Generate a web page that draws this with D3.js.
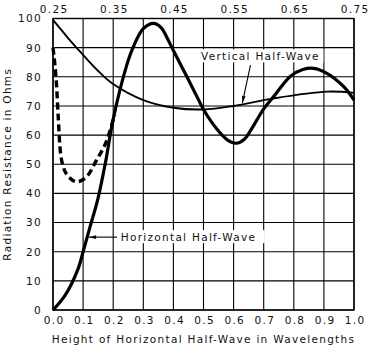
<!DOCTYPE html>
<html><head><meta charset="utf-8">
<script src="https://cdn.jsdelivr.net/npm/d3@7"></script>
<style>
html,body{margin:0;padding:0;background:#fff;}
svg{display:block;}
text{font-family:"DejaVu Sans",sans-serif;font-size:10.5px;letter-spacing:1.3px;fill:#111;}
</style></head>
<body>
<svg id="c" width="368" height="352"></svg>
<script>
// ---- data ----
const xTicks = [0,0.1,0.2,0.3,0.4,0.5,0.6,0.7,0.8,0.9,1.0];
const xTickLabels = ["0.0","0.1","0.2","0.3","0.4","0.5","0.6","0.7","0.8","0.9","1.0"];
const topTicks = [0.25,0.35,0.45,0.55,0.65,0.75];
const topTickLabels = ["0.25","0.35","0.45","0.55","0.65","0.75"];
const yTicks = [0,10,20,30,40,50,60,70,80,90,100];

// Horizontal half-wave, perfect ground (solid thick)
const horizX = [0,0.04,0.084,0.1,0.123,0.15,0.175,0.2,0.245,0.267,0.3,0.334,0.36,0.378,0.4,0.445,0.484,0.5,0.545,0.58,0.609,0.635,0.656,0.7,0.733,0.789,0.83,0.866,0.91,0.966,1.0];
const horizY = [0,5,14.3,20,28.5,38.5,51,65.5,84,90.3,96.5,98.3,96.8,93.6,89,80,72,68.8,62,58.3,57.2,58.5,61.5,69,73.2,80.2,82.5,82.9,81.2,76.6,72];

// Horizontal half-wave, real ground (dashed)
const realX = [0,0.012,0.018,0.023,0.034,0.057,0.079,0.112,0.145,0.179,0.205];
const realY = [90,76.6,65,56,49.2,45.2,44,45.7,51.5,58.3,67];

// Vertical half-wave (solid thin)
const vertX = [0,0.05,0.1,0.15,0.2,0.3,0.4,0.5,0.6,0.733,0.91,1.0];
const vertY = [99.5,93.3,87.5,82,77.5,72,69.4,68.8,70,72.6,74.9,74.5];

const xTitle = "Height of Horizontal Half-Wave in Wavelengths";
const yTitle = "Radiation Resistance in Ohms";
const vertLabel = "Vertical Half-Wave";
const horizLabel = "Horizontal Half-Wave";
// annotation anchors in data units: [textX, textY, arrowStartX, arrowStartY, arrowTipX, arrowTipY]
const vertAnno = [0.689, 87, 0.656, 84, 0.629, 71];
const horizAnno = [0.225, 25, 0.213, 25, 0.12, 25];

// ---- layout ----
const svg = d3.select("#c");
const L = 53, R = 354, T = 18.5, B = 310;
const x = d3.scaleLinear().domain([0,1]).range([L,R]);
const xTop = d3.scaleLinear().domain([0.25,0.75]).range([L,R]);
const y = d3.scaleLinear().domain([0,100]).range([B,T]);

// grid
const g = svg.append("g");
g.selectAll("line.v").data(xTicks).join("line")
  .attr("x1",d=>x(d)).attr("x2",d=>x(d)).attr("y1",T).attr("y2",B)
  .attr("stroke","#000").attr("stroke-width",1.1);
g.selectAll("line.h").data(yTicks).join("line")
  .attr("y1",d=>y(d)).attr("y2",d=>y(d)).attr("x1",L).attr("x2",R)
  .attr("stroke","#000").attr("stroke-width",1.1);
svg.append("rect").attr("x",L).attr("y",T).attr("width",R-L).attr("height",B-T)
  .attr("fill","none").attr("stroke","#000").attr("stroke-width",1.4);

// axes labels
const bottomAxis = d3.axisBottom(x).tickValues(xTicks).tickFormat((d,i)=>xTickLabels[i]).tickSize(0).tickPadding(7);
const ba = svg.append("g").attr("transform",`translate(0,${B})`).call(bottomAxis);
ba.select(".domain").remove();
ba.selectAll("text").attr("font-size",null).attr("font-family",null).attr("dx","0.65px");

const topAxis = d3.axisTop(xTop).tickValues(topTicks).tickFormat((d,i)=>topTickLabels[i]).tickSize(0).tickPadding(6);
const ta = svg.append("g").attr("transform",`translate(0,${T})`).call(topAxis);
ta.select(".domain").remove();
ta.selectAll("text").attr("font-size",null).attr("font-family",null).attr("dx","0.65px");

const leftAxis = d3.axisLeft(y).tickValues(yTicks).tickSize(0).tickPadding(11);
const la = svg.append("g").attr("transform",`translate(${L},0)`).call(leftAxis);
la.select(".domain").remove();
la.selectAll("text").attr("font-size",null).attr("font-family",null);

// titles
svg.append("text").attr("x",(L+R)/2).attr("y",343).attr("text-anchor","middle").text(xTitle);
svg.append("text").attr("transform",`translate(11,${(T+B)/2}) rotate(-90)`).attr("text-anchor","middle").text(yTitle);

// curves
const line = d3.line().x(d=>x(d[0])).y(d=>y(d[1])).curve(d3.curveMonotoneX);
const smooth = d3.line().x(d=>x(d[0])).y(d=>y(d[1])).curve(d3.curveCatmullRom.alpha(0.5));
const zip = (a,b)=>a.map((v,i)=>[v,b[i]]);

svg.append("path").datum(zip(vertX,vertY)).attr("d",smooth)
  .attr("fill","none").attr("stroke","#000").attr("stroke-width",1.9);
svg.append("path").datum(zip(realX,realY)).attr("d",line)
  .attr("fill","none").attr("stroke","#000").attr("stroke-width",3.4)
  .attr("stroke-dasharray","7,4");
svg.append("path").datum(zip(horizX,horizY)).attr("d",smooth)
  .attr("fill","none").attr("stroke","#000").attr("stroke-width",3.2).attr("stroke-linejoin","round");

// annotations
function arrow(a){
  const x1=x(a[2]), y1=y(a[3]), x2=x(a[4]), y2=y(a[5]);
  svg.append("line").attr("x1",x1).attr("y1",y1).attr("x2",x2).attr("y2",y2)
    .attr("stroke","#000").attr("stroke-width",1.1);
  const ang=Math.atan2(y2-y1,x2-x1), len=7, w=1.8;
  const bx=x2-len*Math.cos(ang), by=y2-len*Math.sin(ang);
  const px=-Math.sin(ang)*w, py=Math.cos(ang)*w;
  svg.append("path").attr("d",`M${x2},${y2}L${bx+px},${by+py}L${bx-px},${by-py}Z`).attr("fill","#000");
}
svg.append("rect").attr("x",x(vertAnno[0])-63).attr("y",y(vertAnno[1])-7).attr("width",126).attr("height",13).attr("fill","#fff");
svg.append("text").attr("x",x(vertAnno[0])).attr("y",y(vertAnno[1])).attr("dy","0.35em").attr("text-anchor","middle").text(vertLabel);
arrow(vertAnno);
svg.append("rect").attr("x",x(horizAnno[0])-1).attr("y",y(horizAnno[1])-7).attr("width",145).attr("height",13).attr("fill","#fff");
svg.append("text").attr("x",x(horizAnno[0])).attr("y",y(horizAnno[1])).attr("dy","0.35em").text(horizLabel);
arrow(horizAnno);
</script>
</body></html>
